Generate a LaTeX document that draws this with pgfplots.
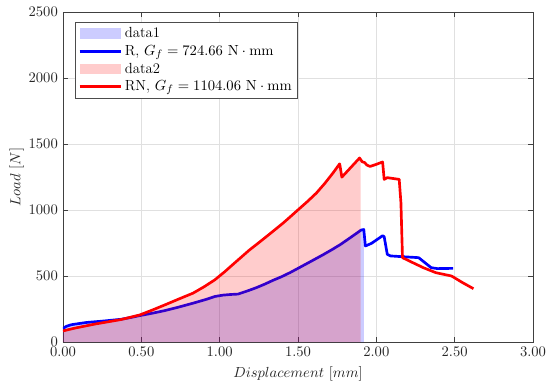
\documentclass[border=0pt]{standalone}
\usepackage{pgfplots}
\pgfplotsset{compat=1.18}
\pgfplotstableread{
x y
0 102
0.02 118
0.05 130
0.075 135
0.15 148
0.25 158
0.37 172
0.43 185
0.49 200
0.57 218
0.65 238
0.74 265
0.83 294
0.92 325
0.97 345
1.02 355
1.07 360
1.117 363
1.18 388
1.235 412
1.287 438
1.34 467
1.394 494
1.45 526
1.50 558
1.55 590
1.606 626
1.66 661
1.713 697
1.77 738
1.819 778
1.86 812
1.904 849
1.92 852
1.93 727
1.97 748
2.04 805
2.05 798
2.07 664
2.09 652
2.17 646
2.27 639
2.31 601
2.35 563
2.39 556
2.49 558
}\blueline
\pgfplotstableread{
x y
0 102
0.02 118
0.05 130
0.075 135
0.15 148
0.25 158
0.37 172
0.43 185
0.49 200
0.57 218
0.65 238
0.74 265
0.83 294
0.92 325
0.97 345
1.02 355
1.07 360
1.117 363
1.18 388
1.235 412
1.287 438
1.34 467
1.394 494
1.45 526
1.50 558
1.55 590
1.606 626
1.66 661
1.713 697
1.77 738
1.819 778
1.86 812
1.904 849
1.92 852
}\bluefill
\pgfplotstableread{
x y
0 84
0.075 105
0.20 135
0.37 170
0.49 205
0.57 242
0.65 281
0.74 326
0.83 370
0.90 418
0.968 470
1.03 530
1.087 590
1.14 645
1.19 697
1.245 748
1.298 798
1.35 848
1.404 900
1.45 948
1.50 1001
1.56 1064
1.617 1128
1.67 1200
1.723 1280
1.766 1350
1.78 1249
1.893 1394
1.91 1365
1.925 1360
1.94 1340
1.96 1330
2.00 1346
2.04 1364
2.05 1232
2.07 1245
2.146 1232
2.157 1056
2.167 639
2.21 614
2.30 563
2.38 525
2.48 500
2.55 450
2.62 404
}\redline
\pgfplotstableread{
x y
0 84
0.075 105
0.20 135
0.37 170
0.49 205
0.57 242
0.65 281
0.74 326
0.83 370
0.90 418
0.968 470
1.03 530
1.087 590
1.14 645
1.19 697
1.245 748
1.298 798
1.35 848
1.404 900
1.45 948
1.50 1001
1.56 1064
1.617 1128
1.67 1200
1.723 1280
1.766 1350
1.78 1249
1.893 1394
1.90 1390
}\redfill
\begin{document}
\fontsize{11}{13}\selectfont
\begin{tikzpicture}
\begin{axis}[
  at={(0,0)}, anchor=south west,
  scale only axis, width=352.5pt, height=247.5pt,
  xmin=0, xmax=3, ymin=0, ymax=2500,
  xtick={0,0.5,1,1.5,2,2.5,3}, ytick={0,500,1000,1500,2000,2500},
  xticklabel style={/pgf/number format/.cd, fixed, fixed zerofill, precision=2},
  scaled y ticks=false,
  yticklabel style={/pgf/number format/.cd, fixed, 1000 sep={}},
  tick label style={font=\fontsize{11}{13}\selectfont, text=black!85},
  label style={font=\fontsize{11}{13}\selectfont, text=black!85},
  ylabel shift=-4pt,
  grid=major, major grid style={black!12, line width=0.4pt},
  tick align=inside, major tick length=4pt,
  tick style={black!75, line width=0.5pt},
  axis line style={black!75, line width=0.5pt},
  xlabel={$Displacement\ [mm]$}, ylabel={$Load\ [N]$},
  legend cell align=left,
  legend style={at={(0.026,0.97)}, anchor=north west, draw=black!70, line width=0.5pt,
    fill=white, font=\fontsize{11}{13}\selectfont, row sep=0pt, inner sep=2pt},
]
\addplot[fill=blue, fill opacity=0.2, draw=none,
  legend image code/.code={\fill[blue, fill opacity=0.2] (0pt,-4pt) rectangle (31pt,4pt);}]
  table[x=x,y=y]{\bluefill} \closedcycle;
\addlegendentry{data1}
\addplot[blue, line width=2pt, line join=round,
  legend image code/.code={\draw[blue, line width=2pt] (0pt,0pt) -- (31pt,0pt);}]
  table[x=x,y=y]{\blueline};
\addlegendentry{R, $G_f = 724.66~\mathrm{N}\cdot\mathrm{mm}$}
\addplot[fill=red, fill opacity=0.2, draw=none,
  legend image code/.code={\fill[red, fill opacity=0.2] (0pt,-4pt) rectangle (31pt,4pt);}]
  table[x=x,y=y]{\redfill} \closedcycle;
\addlegendentry{data2}
\addplot[red, line width=2pt, line join=round,
  legend image code/.code={\draw[red, line width=2pt] (0pt,0pt) -- (31pt,0pt);}]
  table[x=x,y=y]{\redline};
\addlegendentry{RN, $G_f = 1104.06~\mathrm{N}\cdot\mathrm{mm}$}
\end{axis}
\pgfresetboundingbox
\path (-47.25pt,-35.25pt) rectangle (365.25pt,256.5pt);
\end{tikzpicture}
\end{document}
